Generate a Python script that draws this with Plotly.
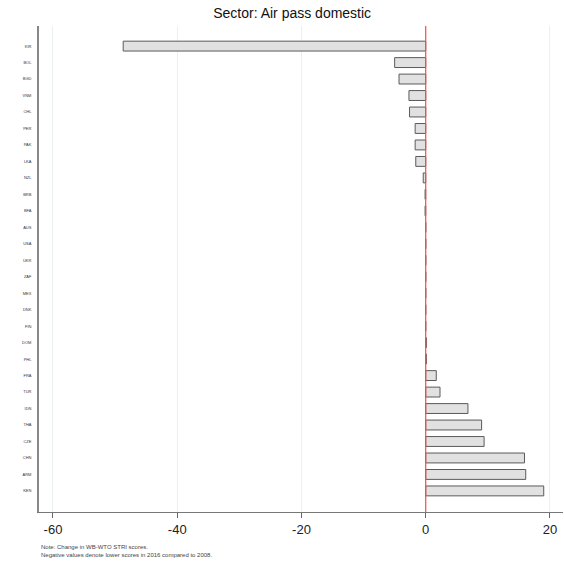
import plotly.graph_objects as go

# change in WB-WTO STRI score, 2008 -> 2016 (top to bottom as drawn)
countries = ['KIR', 'BOL', 'BGD', 'VNM', 'CHL', 'PER', 'PAK', 'LKA', 'NZL', 'BRB',
             'BFA', 'AUS', 'USA', 'UKR', 'ZAF', 'MEX', 'DNK', 'FIN', 'DOM', 'PHL',
             'FRA', 'TUR', 'IDN', 'THA', 'CZE', 'CHN', 'ARM', 'KEN']
changes = [-48.7, -5.0, -4.3, -2.7, -2.6, -1.7, -1.7, -1.6, -0.4, -0.1,
           -0.1, 0, 0, 0, 0, 0, 0, 0, 0.1, 0.1,
           1.7, 2.3, 6.8, 9.0, 9.4, 15.9, 16.1, 19.0]
x_ticks = [-60, -40, -20, 0, 20]
x_labels = ['-60', '-40', '-20', '0', '20']

bars = go.Bar(x=changes, y=countries, orientation='h', width=0.6,
              marker=dict(color='#e1e1e1', line=dict(color='#5a5a5a', width=1)))
fig = go.Figure([bars])

fig.add_shape(type='line', xref='x', yref='paper', x0=0, x1=0, y0=0, y1=1,
              line=dict(color='#ff4848', width=1.2))

fig.update_layout(
    width=564, height=565,
    margin=dict(l=39, r=1, t=26, b=53, autoexpand=False),
    paper_bgcolor='white', plot_bgcolor='white',
    font=dict(family='Liberation Sans, Arial', color='#222222'),
    title=dict(text='Sector: Air pass domestic', x=0.518, xanchor='center',
               y=0.977, yanchor='middle', automargin=False,
               font=dict(size=14, color='#111111')),
    showlegend=False,
    bargap=0.4,
)
fig.update_xaxes(range=[-62.25, 22.1], tickvals=x_ticks, ticktext=x_labels,
                 ticks='outside', ticklen=5, automargin=False,
                 tickcolor='#666666', tickfont=dict(size=13, color='#222222'),
                 showgrid=True, gridcolor='#e8f0f0', gridwidth=1, zeroline=False,
                 showline=True, linecolor='#777777', linewidth=1.2)
fig.update_yaxes(categoryorder='array', categoryarray=countries, automargin=False,
                 range=[28.28, -1.22], tickfont=dict(size=4, color='#333333'),
                 ticks='', ticklabelstandoff=5, showgrid=False, zeroline=False,
                 showline=True, linecolor='#888888', linewidth=1.5)

fig.add_annotation(xref='paper', yref='paper', x=0.0, y=-0.062, xanchor='left',
                   yanchor='top', align='left', showarrow=False,
                   text='Note: Change in WB-WTO STRI scores.<br>'
                        'Negative values denote lower scores in 2016 compared to 2008.',
                   font=dict(size=6, color='#444444'))

# page body has an 8px default margin, drop it so the figure sits at 0,0
fig.write_html("out.html", config={'displayModeBar': False},
               post_script="document.body.style.margin='0';")
